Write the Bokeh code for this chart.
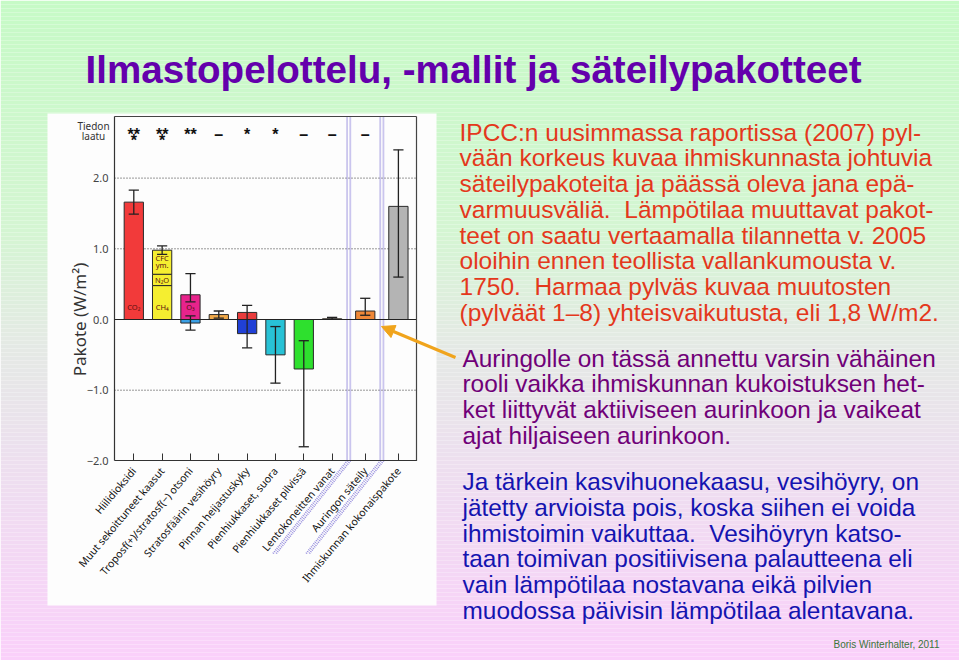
import math
from bokeh.plotting import figure
from bokeh.models import Range1d, LinearAxis, FixedTicker, Arrow, NormalHead
from bokeh.core.properties import value
from bokeh.embed import file_html
from bokeh.resources import INLINE

# ------------------------------------------------------------------ data
TITLE = "Ilmastopelottelu, -mallit ja säteilypakotteet"
Y_LABEL = "Pakote (W/m\u00b2)"

CATEGORIES = [
    "Hiilidioksidi",
    "Muut sekoittuneet kaasut",
    "Troposf(+)/stratosf(\u2212) otsoni",
    "Stratosfäärin vesihöyry",
    "Pinnan heijastuskyky",
    "Pienhiukkaset, suora",
    "Pienhiukkaset pilvissä",
    "Lentokoneitten vanat",
    "Auringon säteily",
    "Ihmiskunnan kokonaispakote",
]
CATEGORY_GROUP = [0, 0, 0, 0, 0, 0, 0, 0, 1, 2]

# stacked bar segments (category index, forcing W/m2)
SEGMENT_CAT = [0, 1, 1, 1, 2, 2, 3, 4, 4, 5, 6, 7, 8, 9]
SEGMENT_VALUE = [1.66, 0.48, 0.16, 0.34, 0.35, -0.05, 0.07, 0.10, -0.20,
                 -0.50, -0.70, 0.01, 0.12, 1.60]
SEGMENT_COLOR = ["#f23a3a", "#f5ee30", "#f5ee30", "#f5ee30", "#e8238c",
                 "#3aa0e6", "#f0a848", "#e83c3c", "#2040d6", "#28c2d6",
                 "#2ee02e", "#f0a848", "#f08838", "#b4b4b4"]

# uncertainty ranges
ERR_CAT = [0, 1, 2, 2, 3, 4, 5, 6, 7, 8, 9]
ERR_LOW = [1.49, 0.92, 0.25, -0.15, 0.02, -0.40, -0.90, -1.80, 0.003, 0.06, 0.60]
ERR_HIGH = [1.83, 1.04, 0.65, 0.05, 0.12, 0.20, -0.10, -0.30, 0.03, 0.30, 2.40]

# level of scientific understanding ("Tiedon laatu")
LOSU = ["***", "***", "**", "\u2013", "*", "*", "\u2013", "\u2013", "\u2013", ""]

Y_TICKS = [-2.0, -1.0, 0.0, 1.0, 2.0]
Y_TICK_LABELS = ["\u22122.0", "\u22121.0", "0.0", "1.0", "2.0"]
Y_GRID = [-1.0, 1.0, 2.0]

S2 = "\u00a0 "  # double space
TEXT_RED = [
    "IPCC:n uusimmassa raportissa (2007) pyl-",
    "vään korkeus kuvaa ihmiskunnasta johtuvia",
    "säteilypakoteita ja päässä oleva jana epä-",
    "varmuusväliä." + S2 + "Lämpötilaa muuttavat pakot-",
    "teet on saatu vertaamalla tilannetta v. 2005",
    "oloihin ennen teollista vallankumousta v.",
    "1750." + S2 + "Harmaa pylväs kuvaa muutosten",
    "(pylväät 1\u20138) yhteisvaikutusta, eli 1,8 W/m2.",
]
TEXT_PURPLE = [
    "Auringolle on tässä annettu varsin vähäinen",
    "rooli vaikka ihmiskunnan kukoistuksen het-",
    "ket liittyvät aktiiviseen aurinkoon ja vaikeat",
    "ajat hiljaiseen aurinkoon.",
]
TEXT_BLUE = [
    "Ja tärkein kasvihuonekaasu, vesihöyry, on",
    "jätetty arvioista pois, koska siihen ei voida",
    "ihmistoimin vaikuttaa." + S2 + "Vesihöyryn katso-",
    "taan toimivan positiivisena palautteena eli",
    "vain lämpötilaa nostavana eikä pilvien",
    "muodossa päivisin lämpötilaa alentavana.",
]
CREDIT = "Boris Winterhalter, 2011"

# ------------------------------------------------------------------ layout
W, H = 959, 660
OFF = 0
X0_PX, PX_PER_CAT = 133.3, 28.33     # page x of first category, px per slot
Y0_PX, PX_PER_W = 319.0, 70.7        # page y of zero, px per W/m2
GROUP_GAP = 0.17
BAR_W = 0.68
FRAME_L, FRAME_R, FRAME_T = 114.0, 416.0, 116.0

p = figure(width=W, height=H, output_backend="svg", toolbar_location=None,
           x_range=Range1d(OFF, OFF + W), y_range=Range1d(OFF + H, OFF),
           x_axis_type=None, y_axis_type=None, min_border=0)
p.outline_line_color = None
p.background_fill_color = None
p.border_fill_color = "#e4eee4"

p.extra_x_ranges = {"cx": Range1d(start=(OFF - X0_PX) / PX_PER_CAT,
                                  end=(OFF + W - X0_PX) / PX_PER_CAT)}
p.extra_y_ranges = {"cy": Range1d(start=(Y0_PX - (OFF + H)) / PX_PER_W,
                                  end=(Y0_PX - OFF) / PX_PER_W)}

def cx(px):
    return (px - X0_PX) / PX_PER_CAT

X_LEFT, X_RIGHT = cx(FRAME_L), cx(FRAME_R)
Y_TOP, Y_BOT = (Y0_PX - FRAME_T) / PX_PER_W, -2.0

# ---- background gradient (green -> grey -> pink)
stops = [(0, (198, 250, 198)), (230, (212, 245, 210)), (340, (228, 234, 228)),
         (450, (236, 224, 238)), (660, (250, 208, 250))]
def grad(y):
    for (y0, c0), (y1, c1) in zip(stops[:-1], stops[1:]):
        if y0 <= y <= y1:
            t = (y - y0) / (y1 - y0)
            return "#%02x%02x%02x" % tuple(int(round(a + (b - a) * t)) for a, b in zip(c0, c1))
    return "#%02x%02x%02x" % stops[-1][1]
band_top = list(range(OFF, OFF + H, 4))
p.quad(left=OFF, right=OFF + W, top=band_top, bottom=[t + 4 for t in band_top],
       fill_color=[grad(t + 2) for t in band_top], line_color=None)

# ---- white panel for the chart
p.quad(left=[47], right=[436], top=[113], bottom=[605], fill_color="#fdfdfd", line_color=None)

# ---- positions of categories
XPOS = [round(i + GROUP_GAP * g, 3) for i, g in enumerate(CATEGORY_GROUP)]

# grid lines
p.segment(x0=X_LEFT, x1=X_RIGHT, y0=Y_GRID, y1=Y_GRID, x_range_name="cx", y_range_name="cy",
          line_color="#333333", line_width=1, line_dash="1 2")

# separators (double dotted lavender lines, continuing diagonally under the axis)
seps = [(XPOS[7] + XPOS[8]) / 2, (XPOS[8] + XPOS[9]) / 2]
dx_diag, dy_diag = -74.6 / PX_PER_CAT, -93.3 / PX_PER_W
xs, ys = [], []
for s in seps:
    for o in (-1.6 / PX_PER_CAT, 1.6 / PX_PER_CAT):
        xs.append([s + o, s + o, s + o + dx_diag])
        ys.append([Y_TOP, Y_BOT, Y_BOT + dy_diag])
p.multi_line(xs=xs, ys=ys, x_range_name="cx", y_range_name="cy",
             line_color="#8c82da", line_width=1.8, line_dash="1 1", line_alpha=0.9)

# bars (stacked)
pos_base = {}
neg_base = {}
lefts, rights, bottoms, tops = [], [], [], []
for c, v in zip(SEGMENT_CAT, SEGMENT_VALUE):
    if v >= 0:
        b = pos_base.get(c, 0.0); t = b + v; pos_base[c] = t
    else:
        t = neg_base.get(c, 0.0); b = t + v; neg_base[c] = b
    lefts.append(XPOS[c] - BAR_W / 2); rights.append(XPOS[c] + BAR_W / 2)
    bottoms.append(b); tops.append(t)
p.quad(left=lefts, right=rights, bottom=bottoms, top=tops, fill_color=SEGMENT_COLOR,
       line_color="#2a2a2a", line_width=1, x_range_name="cx", y_range_name="cy")

# zero line and frame
p.segment(x0=[X_LEFT], x1=[X_RIGHT], y0=[0], y1=[0], x_range_name="cx", y_range_name="cy",
          line_color="#222222", line_width=1.2)
p.segment(x0=[X_LEFT, X_RIGHT], x1=[X_RIGHT, X_RIGHT], y0=[Y_TOP, Y_BOT], y1=[Y_TOP, Y_TOP],
          x_range_name="cx", y_range_name="cy", line_color="#444444", line_width=1.2)

# error bars
ex = [XPOS[c] for c in ERR_CAT]
cap = 0.18
p.segment(x0=ex, x1=ex, y0=ERR_LOW, y1=ERR_HIGH, x_range_name="cx", y_range_name="cy",
          line_color="#222222", line_width=1.3)
p.segment(x0=[x - cap for x in ex] * 2, x1=[x + cap for x in ex] * 2, y0=ERR_LOW + ERR_HIGH,
          y1=ERR_LOW + ERR_HIGH, x_range_name="cx", y_range_name="cy",
          line_color="#222222", line_width=1.3)

# labels inside bars
n2o_mid = SEGMENT_VALUE[1] + SEGMENT_VALUE[2] / 2
halo_mid = SEGMENT_VALUE[1] + SEGMENT_VALUE[2] + SEGMENT_VALUE[3] / 2
p.text(x=[XPOS[0], XPOS[1], XPOS[1], XPOS[1], XPOS[1], XPOS[2]],
       y=[0.17, 0.17, n2o_mid, halo_mid + 0.06, halo_mid - 0.04, 0.17],
       text=["CO\u2082", "CH\u2084", "N\u2082O", "CFC", "ym.", "O\u2083"],
       x_range_name="cx", y_range_name="cy", text_align="center", text_baseline="middle",
       text_font=value("Noto Sans"), text_font_size="7.5px", text_color="#5a1010")

# LOSU stars
row1 = [s[:2] for s in LOSU]
row2 = [s[2:] for s in LOSU]
p.text(x=XPOS, y=[133.5] * len(XPOS), text=row1, x_range_name="cx", text_align="center",
       text_baseline="alphabetic", text_font=value("Liberation Sans"), text_font_size="16px",
       text_font_style="bold", text_color="#111111")
p.text(x=XPOS, y=[140] * len(XPOS), text=row2, x_range_name="cx", text_align="center",
       text_baseline="alphabetic", text_font=value("Liberation Sans"), text_font_size="16px",
       text_font_style="bold", text_color="#111111")
p.text(x=[93, 93], y=[125.5, 135], text=["Tiedon", "laatu"], text_align="center",
       text_baseline="alphabetic", text_font=value("Noto Sans"), text_font_size="10px",
       text_color="#333333")

# axes
yax = LinearAxis(y_range_name="cy", fixed_location=FRAME_L, ticker=FixedTicker(ticks=Y_TICKS),
                 major_label_overrides={t: l for t, l in zip(Y_TICKS, Y_TICK_LABELS)},
                 bounds=(Y_BOT, Y_TOP))
yax.major_tick_in = 0
yax.major_tick_out = 0
yax.minor_tick_line_color = None
yax.axis_line_color = "#333333"
yax.axis_line_width = 1.2
yax.major_label_text_font = "Noto Sans"
yax.major_label_text_font_size = "11px"
yax.major_label_text_color = "#444444"
yax.major_label_standoff = 6
p.add_layout(yax, "left")

# y-axis title (rotated), centred as in the original figure
p.text(x=[79], y=[0.0], text=[Y_LABEL], y_range_name="cy", angle=math.pi / 2,
       text_align="center", text_baseline="middle", text_font=value("Noto Sans"),
       text_font_size="17px", text_color="#333333")

xax = LinearAxis(x_range_name="cx", y_range_name="cy", fixed_location=Y_BOT,
                 ticker=FixedTicker(ticks=XPOS),
                 major_label_overrides={x: n for x, n in zip(XPOS, CATEGORIES)},
                 bounds=(X_LEFT, X_RIGHT), major_label_orientation=0.87)
xax.major_tick_in = 7
xax.major_tick_out = 0
xax.major_tick_line_color = "#333333"
xax.minor_tick_line_color = None
xax.axis_line_color = "#333333"
xax.axis_line_width = 1.2
xax.major_label_text_font = "Noto Sans"
xax.major_label_text_font_size = "10.5px"
xax.major_label_text_color = "#111111"
xax.major_label_standoff = 8
p.add_layout(xax, "below")

# arrow
p.add_layout(Arrow(end=NormalHead(size=13, fill_color="#f0a41c", line_color="#f0a41c"),
                   x_start=455, y_start=357, x_end=381, y_end=326,
                   line_color="#f0a41c", line_width=3))

# title and slide text
p.text(x=[85], y=[68.5], text=[TITLE], text_font=value("Liberation Sans"),
       text_font_style="bold", text_font_size="38.6px", text_color="#6400ac",
       text_baseline="alphabetic")

LINE = 25.75
p.text(x=459, y=[131.7 + i * LINE for i in range(len(TEXT_RED))], text=TEXT_RED,
       text_font=value("Liberation Sans"), text_font_size="24.5px", text_color="#e4381c",
       text_baseline="alphabetic")
p.text(x=462, y=[357.7 + i * LINE for i in range(len(TEXT_PURPLE))], text=TEXT_PURPLE,
       text_font=value("Liberation Sans"), text_font_size="24.4px", text_color="#700078",
       text_baseline="alphabetic")
p.text(x=462, y=[481 + i * LINE for i in range(len(TEXT_BLUE))], text=TEXT_BLUE,
       text_font=value("Liberation Sans"), text_font_size="24.4px", text_color="#1414b0",
       text_baseline="alphabetic")
p.text(x=[939], y=[644], text=[CREDIT], text_font=value("Liberation Sans"),
       text_font_size="10px", text_color="#3a763a", text_align="right",
       text_baseline="alphabetic")

open("out.html", "w").write(file_html(p, INLINE))
